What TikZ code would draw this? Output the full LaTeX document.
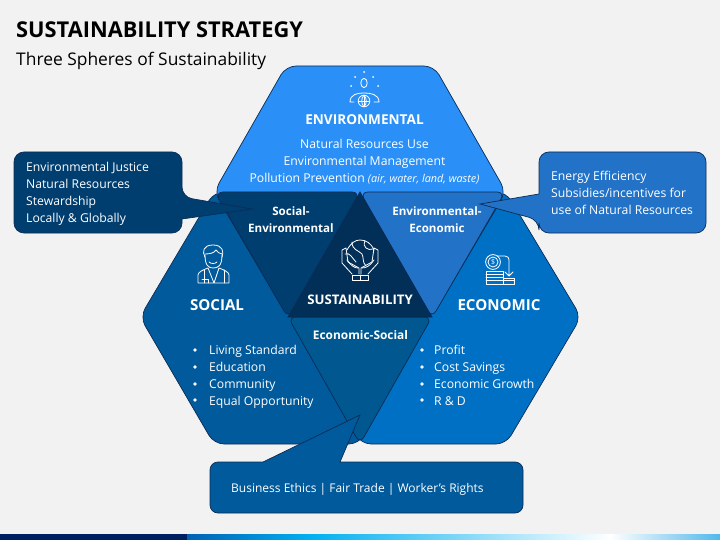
\documentclass[tikz,border=0pt]{standalone}
\usepackage{fontspec}
\setmainfont{Open Sans}
\usepackage[HTML]{xcolor}
\usetikzlibrary{positioning}

\definecolor{pagebg}{HTML}{F2F2F2}
\definecolor{edgecol}{HTML}{0B2C55}
\definecolor{envcol}{HTML}{2A90F8}
\definecolor{socialcol}{HTML}{015A9C}
\definecolor{econcol}{HTML}{0070C4}
\definecolor{socenvcol}{HTML}{003E70}
\definecolor{enveconcol}{HTML}{2272C8}
\definecolor{econsoccol}{HTML}{01578F}
\definecolor{corecol}{HTML}{012F58}
\definecolor{footnavy}{HTML}{001F60}
\definecolor{footblue}{HTML}{0060B4}
\definecolor{footsky}{HTML}{00B0F0}
\definecolor{footend}{HTML}{50B8EC}

\tikzset{
  hexa/.style={draw=edgecol,line width=.7pt,rounded corners=10pt},
  wedge/.style={draw=edgecol,line width=.7pt,rounded corners=8pt},
  callout/.style={draw=edgecol,line width=.7pt},
  icon/.style={draw=white,line width=.8pt,line cap=round,line join=round},
  headtxt/.style={text=white,font=\fontsize{15.1}{17}\selectfont\bfseries,inner sep=0pt},
  pairtxt/.style={text=white,font=\fontsize{11.6}{17}\selectfont\bfseries,align=center,inner sep=0pt},
  bodytxt/.style={text=white,font=\fontsize{12.2}{17}\selectfont,align=left,anchor=west,inner sep=0pt},
}

\begin{document}
\begin{tikzpicture}[x=1pt,y=-1pt]
\useasboundingbox (0,0) rectangle (720,540);
\fill[pagebg] (0,0) rectangle (720,540);

% footer band
\fill[footnavy] (0,534) rectangle (187,540);
\shade[left color=footblue,right color=footsky] (187,534) rectangle (310,540);
\shade[left color=footsky,right color=white] (310,534) rectangle (610,540);
\shade[left color=white,right color=footend] (610,534) rectangle (720,540);

% title
\node[anchor=west,inner sep=0pt,font=\fontsize{21.8}{24}\selectfont\bfseries] (title) at (16,29.5) {SUSTAINABILITY STRATEGY};
\node[anchor=west,inner sep=0pt,font=\fontsize{17.4}{20}\selectfont] (subtitle) at (16,60.5) {Three Spheres of Sustainability};

% the three hexagons
\draw[hexa,fill=socialcol] (214,192) -- (358,192) -- (431,317) -- (359,444) -- (214,444) -- (140,317) -- cycle;
\draw[hexa,fill=econcol] (362,192) -- (506,192) -- (581,317) -- (506,444) -- (361,444) -- (289,317) -- cycle;
\draw[hexa,fill=envcol] (286,66) -- (434,66) -- (506,192) -- (432,317) -- (288,317) -- (214,192) -- cycle;

% overlaps
\draw[wedge,fill=socenvcol] (215,192) -- (360,192) -- (288,318) -- cycle;
\draw[wedge,fill=enveconcol] (360,192) -- (505,192) -- (432,318) -- cycle;
\draw[wedge,fill=econsoccol] (288,317) -- (432,317) -- (360,444) -- cycle;
\draw[draw=edgecol,line width=.7pt,fill=corecol] (360,192) -- (432,317) -- (288,317) -- cycle;

% callouts
\draw[callout,fill=socenvcol] (100,152) [rounded corners=10pt] -- (182,152) -- (182,197) [sharp corners] -- (252,209) -- (182,219) [rounded corners=10pt] -- (182,233) -- (14,233) -- (14,152) -- cycle;
\draw[callout,fill=enveconcol] (620,152) [rounded corners=10pt] -- (706,152) -- (706,233) -- (539,233) -- (539,220) [sharp corners] -- (480,204) -- (539,194) [rounded corners=10pt] -- (539,152) -- cycle;
\draw[callout,fill=socialcol] (400,462) [rounded corners=8pt] -- (523,462) -- (523,513) -- (210,513) -- (210,462) [sharp corners] -- (263,462) -- (360,415) -- (340,462) -- cycle;

% labels
\node[headtxt,font=\fontsize{13.6}{17}\selectfont\bfseries] (envhead) at (364.5,120) {ENVIRONMENTAL};
\node[text=white,font=\fontsize{12.2}{17}\selectfont,align=center,inner sep=0pt] (envbody) at (364.5,161.5)
  {Natural Resources Use\\Environmental Management\\Pollution Prevention {\fontsize{10.8}{17}\selectfont\itshape (air, water, land, waste)}};
\node[pairtxt] (socenv) at (291,219.5) {Social-\\Environmental};
\node[pairtxt] (envecon) at (437,219.5) {Environmental-\\Economic};
\node[pairtxt,font=\fontsize{13.2}{17}\selectfont\bfseries] (core) at (360,300) {SUSTAINABILITY};
\node[pairtxt,font=\fontsize{11.9}{17}\selectfont\bfseries] (econsoc) at (360.5,335) {Economic-Social};
\node[headtxt] (socialhead) at (217,305) {SOCIAL};
\node[headtxt] (econhead) at (499,305) {ECONOMIC};

\node[bodytxt] (sociallist) at (209,376.5) {Living Standard\\Education\\Community\\Equal Opportunity};
\node[bodytxt] (econlist) at (434,375) {Profit\\Cost Savings\\Economic Growth\\R \& D};
\foreach \doty in {350,367,384,400} {
  \fill[white] (195,\doty) circle (1.8);
  \fill[white] (422,\doty) circle (1.8);
}
\node[bodytxt] (lefttxt) at (26,194) {Environmental Justice\\Natural Resources\\Stewardship\\Locally \& Globally};
\node[bodytxt] (righttxt) at (551,193) {Energy Efficiency\\Subsidies/incentives for\\use of Natural Resources};
\node[bodytxt,font=\fontsize{12}{17}\selectfont] (bottomtxt) at (231,489) {Business Ethics | Fair Trade | Worker’s Rights};

% environmental icon
\draw[icon] (364,83) ellipse (3.2 and 4.6);
\foreach \dotx/\doty in {355/77,364/72,373/77,351/86,378/86}
  \fill[white] (\dotx,\doty) circle (1);
\draw[icon] (354,102) -- (350,102) .. controls (350,94) and (358,93) .. (364,93) .. controls (370,93) and (379,94) .. (379,102) -- (374,102);
\draw[icon] (364,101) circle (5.8);
\draw[icon] (358.2,101) -- (369.8,101) (364,95.2) -- (364,106.8);
\draw[icon] (364,95.2) .. controls (361,98) and (361,104) .. (364,106.8) .. controls (367,104) and (367,98) .. (364,95.2);

% social icon
\draw[icon] (205,255) .. controls (205,266) and (209,268) .. (213,268) .. controls (218,268) and (222,266) .. (222,255);
\draw[icon] (205,257) .. controls (202,252) and (203,245) .. (213,245) .. controls (223,245) and (224,252) .. (222,257);
\draw[icon] (205,254) .. controls (210,254) and (214,253) .. (216,250) .. controls (217,252) and (220,254) .. (222,254);
\draw[icon] (209,262) .. controls (211,264) and (215,264) .. (217,262);
\draw[icon] (198,283) -- (198,275) .. controls (198,272) and (203,270) .. (208,268) -- (214,283) -- (219,268) .. controls (224,270) and (229,272) .. (229,275) -- (229,283) -- cycle;
\draw[icon] (202,279) -- (208,279) -- (208,283);
\draw[icon] (204,270) -- (204,283) (224,270) -- (224,283);

% sustainability icon
\draw[icon] (347,250) .. controls (351,243) and (355,240) .. (360,240) .. controls (366,240) and (371,243) .. (374,250);
\draw[icon] (347,260) .. controls (351,266) and (355,268) .. (358,268) (374,260) .. controls (370,266) and (366,268) .. (362,268);
\draw[icon] (352,242) .. controls (352,250) and (358,250) .. (362,254) .. controls (364,258) and (362,262) .. (366,266);
\draw[icon] (365,241) .. controls (362,247) and (368,251) .. (373,249);
\draw[icon] (345,254) .. controls (350,252) and (352,258) .. (356,262);
\draw[icon] (342,250) -- (346,248) -- (348,262) -- (359,268) -- (359,274) (342,250) -- (342,263) -- (352,274);
\draw[icon] (378,250) -- (374,248) -- (372,262) -- (361,268) -- (361,274) (378,250) -- (378,263) -- (368,274);
\draw[icon] (352,275) rectangle (368,280) (360,275) -- (360,280);

% economic icon
\draw[icon] (493,262) circle (7.4);
\draw[icon] (493,262) circle (5);
\node[text=white,inner sep=0pt,font=\fontsize{7}{8}\selectfont] (dollar) at (493,262) {\$};
\draw[icon] (497,256) -- (505,256) .. controls (508,256) and (509,258) .. (509,260) -- (509,275) (505,272) -- (509,276) -- (513,272);
\draw[icon] (486,271) rectangle (503,284) (503,278) rectangle (514,284);
\draw[icon] (486,274.2) -- (503,274.2) (486,277.5) -- (503,277.5) (486,280.8) -- (514,280.8);
\end{tikzpicture}
\end{document}
